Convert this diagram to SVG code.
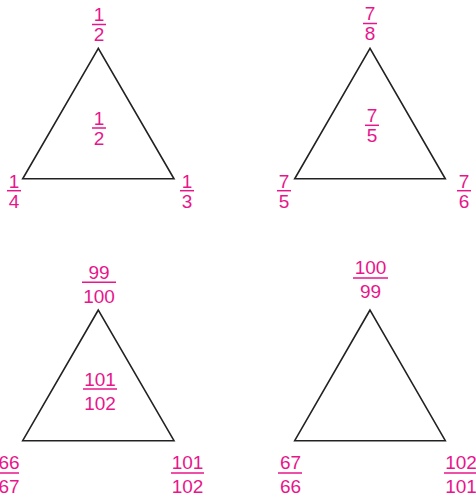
<svg xmlns="http://www.w3.org/2000/svg" width="476" height="496" viewBox="0 0 476 496">
<style>
.tri{fill:none;stroke:#222;stroke-width:1.6;stroke-linejoin:miter}
.f{font-family:"Liberation Sans",Arial,sans-serif;font-size:19px;fill:#e8168b;text-anchor:middle}
.bar{stroke:#e8168b;stroke-width:1.5}
</style>
<rect width="476" height="496" fill="#fff"/>
<g id="t1">
<polygon class="tri" points="98.3,48.3 22.7,178.8 174,178.8"/>
<g class="f"><text x="99" y="20.5">1</text><text x="99" y="40.5">2</text></g><line class="bar" x1="92" y1="24.5" x2="106" y2="24.5"/>
<g class="f"><text x="99" y="124.5">1</text><text x="99" y="144.5">2</text></g><line class="bar" x1="92" y1="128" x2="106" y2="128"/>
<g class="f"><text x="14" y="187.5">1</text><text x="14" y="207.5">4</text></g><line class="bar" x1="7" y1="190.7" x2="21" y2="190.7"/>
<g class="f"><text x="187" y="187.5">1</text><text x="187" y="207.5">3</text></g><line class="bar" x1="180" y1="190.7" x2="194" y2="190.7"/>
</g>
<g id="t2">
<polygon class="tri" points="370,48.3 294.7,178.8 445.3,178.8"/>
<g class="f"><text x="370" y="19.5">7</text><text x="370" y="39.5">8</text></g><line class="bar" x1="363" y1="23.5" x2="377" y2="23.5"/>
<g class="f"><text x="372" y="121.5">7</text><text x="372" y="141.5">5</text></g><line class="bar" x1="365" y1="125.3" x2="379" y2="125.3"/>
<g class="f"><text x="284" y="187.5">7</text><text x="284" y="207.5">5</text></g><line class="bar" x1="277" y1="190.7" x2="291" y2="190.7"/>
<g class="f"><text x="464" y="187.5">7</text><text x="464" y="207.5">6</text></g><line class="bar" x1="457" y1="190.7" x2="471" y2="190.7"/>
</g>
<g id="t3">
<polygon class="tri" points="98.3,310 22.7,440.7 174,440.7"/>
<g class="f"><text x="99" y="278.5">99</text><text x="99" y="302.5">100</text></g><line class="bar" x1="82" y1="282.3" x2="116" y2="282.3"/>
<g class="f"><text x="100" y="385.5">101</text><text x="100" y="409.5">102</text></g><line class="bar" x1="83" y1="389" x2="117" y2="389"/>
<g class="f"><text x="9" y="468.5">66</text><text x="9" y="492.5">67</text></g><line class="bar" x1="-4" y1="473" x2="19" y2="473"/>
<g class="f"><text x="187.5" y="468.5">101</text><text x="187.5" y="492.5">102</text></g><line class="bar" x1="171" y1="473" x2="204" y2="473"/>
</g>
<g id="t4">
<polygon class="tri" points="370,310 294.7,440.7 445.3,440.7"/>
<g class="f"><text x="370.5" y="273.5">100</text><text x="370.5" y="297.5">99</text></g><line class="bar" x1="353" y1="278" x2="388" y2="278"/>
<g class="f"><text x="290.5" y="468.5">67</text><text x="290.5" y="492.5">66</text></g><line class="bar" x1="278" y1="473" x2="302" y2="473"/>
<g class="f"><text x="461" y="468.5">102</text><text x="461" y="492.5">101</text></g><line class="bar" x1="444" y1="473" x2="478" y2="473"/>
</g>
<g id="connectors"/>
</svg>
